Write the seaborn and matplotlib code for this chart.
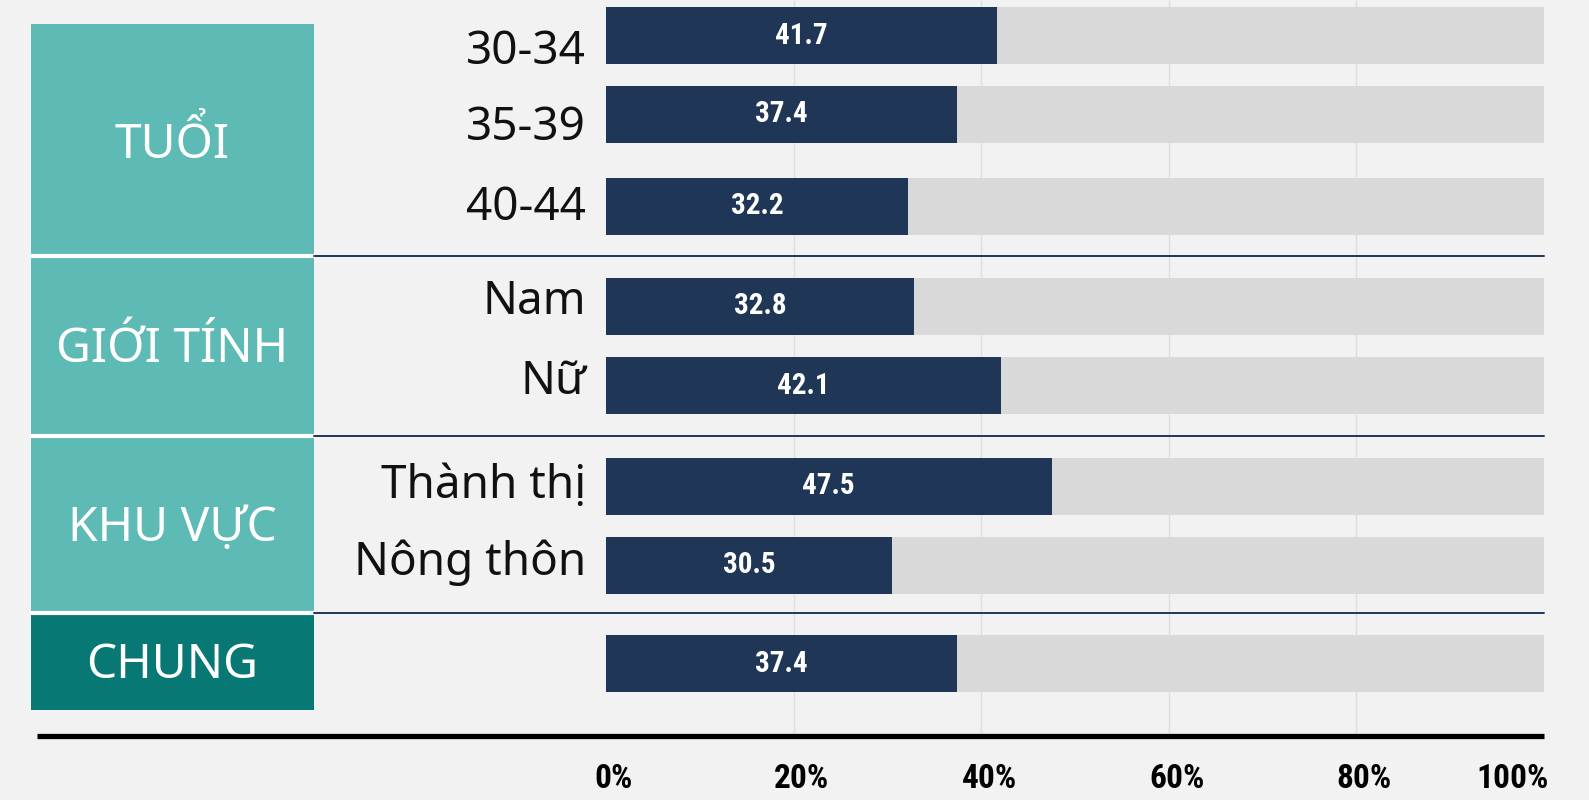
import numpy as np
import pandas as pd
import seaborn as sns
import matplotlib
matplotlib.use("Agg")
import matplotlib.pyplot as plt
from matplotlib import font_manager as fm
from matplotlib.patches import Rectangle
from matplotlib.transforms import blended_transform_factory, offset_copy

# ---------------- data ----------------
row_labels = ["30-34", "35-39", "40-44", "Nam", "Nữ", "Thành thị", "Nông thôn", ""]
values = [41.7, 37.4, 32.2, 32.8, 42.1, 47.5, 30.5, 37.4]
group_labels = ["TUỔI", "GIỚI TÍNH", "KHU VỰC", "CHUNG"]
tick_values = [0, 20, 40, 60, 80, 100]
tick_labels = ["0%", "20%", "40%", "60%", "80%", "100%"]
full_value = 100

# ---------------- layout (pixels, from top) ----------------
W, H = 1589, 800
row_pos = [35.5, 114, 206, 306.5, 385.6, 486.5, 565, 663.8]
label_pos = [52.5, 128, 208, 301.5, 381.6, 486.5, 563, 663.8]
bar_px = 57
x0_px, x1_px = 606, 1544
panel_x = (31, 314)
group_bounds = [(24, 256), (256, 436), (436, 613), (613, 710)]
sep_y = [256, 436, 613]
axis_y = 736
axis_left_px = 37
tick_label_y = 779

# ---------------- styles ----------------
BG = "#f2f2f2"
NAVY = "#1f3657"
TRACK = "#d9d9d9"
TEAL = "#5dbab4"
DARK_TEAL = "#077874"
GRID = "#dedede"

sns.set_theme(style="white")
plt.rcParams["font.family"] = ["Noto Sans", "DejaVu Sans"]


def pick_condensed():
    ents = fm.fontManager.ttflist
    pref = ["Liberation Sans Narrow", "Roboto Condensed", "Noto Sans", "Open Sans",
            "DejaVu Sans", "Roboto", "Liberation Sans"]

    def wt(f):
        w = f.weight
        if isinstance(w, str):
            w = fm.weight_dict.get(w, 400)
        return w

    def is_cond(f):
        return ("ondensed" in f.name or "Narrow" in f.name or
                str(f.stretch) in ("condensed", "semi-condensed", "extra-condensed",
                                   "ultra-condensed", "75", "87.5", "62.5"))
    for p in pref:
        cands = [f for f in ents if f.name.startswith(p) and is_cond(f)]
        bold = [f for f in cands if wt(f) >= 700 and "talic" not in f.fname]
        if bold:
            return bold[0].fname
        if cands:
            return cands[0].fname
    return None


cond_path = pick_condensed()


def cond_font(size):
    if cond_path:
        return fm.FontProperties(fname=cond_path, size=size)
    return fm.FontProperties(family="DejaVu Sans", weight="bold", size=size)


fig = plt.figure(figsize=(W / 100, H / 100), dpi=100, facecolor=BG)
ax = fig.add_axes([x0_px / W, 0, (x1_px - x0_px) / W, 1])
ax.set_facecolor("none")

df = pd.DataFrame({"pos": row_pos, "value": values, "full": [full_value] * len(values)})
width = bar_px / np.min(np.diff(sorted(row_pos)))

sns.barplot(data=df, x="full", y="pos", orient="h", native_scale=True, color=TRACK,
            saturation=1, width=width, errorbar=None, linewidth=0, ax=ax, zorder=2)
sns.barplot(data=df, x="value", y="pos", orient="h", native_scale=True, color=NAVY,
            saturation=1, width=width, errorbar=None, linewidth=0, ax=ax, zorder=3)

ax.set_xlim(0, 100)
ax.set_ylim(H, 0)
ax.set_axis_off()

# value labels
ax.bar_label(ax.containers[1], labels=[f"{v}" for v in values], label_type="center",
             color="white", fontproperties=cond_font(21), zorder=5)

# gridlines
ax.vlines(tick_values[1:-1], 0, axis_y, color=GRID, lw=1, zorder=0)

# bottom axis line
x_left = (axis_left_px - x0_px) / (x1_px - x0_px) * 100
ax.plot([x_left, 100], [axis_y, axis_y], color="black", lw=3.8, clip_on=False,
        solid_capstyle="butt", zorder=4)

# tick labels
for tv, tl in zip(tick_values, tick_labels):
    if tv == 100:
        tr = offset_copy(ax.transData, fig=fig, x=5, y=0, units="dots")
        ha = "right"
    else:
        tr = offset_copy(ax.transData, fig=fig, x=8, y=0, units="dots")
        ha = "center"
    ax.text(tv, tick_label_y, tl, transform=tr, ha=ha, va="center", color="black",
            fontproperties=cond_font(24), clip_on=False)

# row labels
tr_lab = offset_copy(ax.transData, fig=fig, x=-20, y=0, units="dots")
for lab, p in zip(row_labels, label_pos):
    ax.text(0, p, lab, transform=tr_lab, ha="right", va="center", fontsize=33,
            color="#111111", clip_on=False)

# group panels
bt = blended_transform_factory(fig.transFigure, ax.transData)
for i, (g, (top, bot)) in enumerate(zip(group_labels, group_bounds)):
    color = DARK_TEAL if i == len(group_labels) - 1 else TEAL
    ax.add_patch(Rectangle((panel_x[0] / W, top), (panel_x[1] - panel_x[0]) / W, bot - top,
                           transform=bt, facecolor=color, edgecolor="none",
                           clip_on=False, zorder=1))
    ax.text((panel_x[0] + panel_x[1]) / 2 / W, (top + bot) / 2 + 4, g, transform=bt,
            ha="center", va="center", color="white", fontsize=34.5, clip_on=False, zorder=2)

# separators
for y in sep_y:
    ax.plot([panel_x[0] / W, panel_x[1] / W], [y, y], transform=bt, color="white", lw=3,
            clip_on=False, zorder=2)
    ax.plot([panel_x[1] / W, x1_px / W], [y, y], transform=bt, color=NAVY, lw=1.4,
            clip_on=False, zorder=2)

fig.savefig("out.png", dpi=100, facecolor=BG)
